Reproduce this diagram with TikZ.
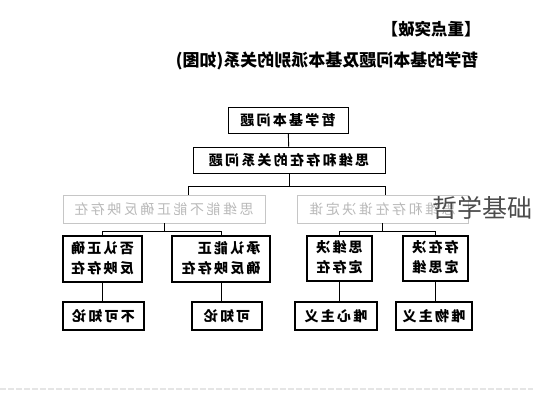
\documentclass[tikz,border=0pt]{standalone}
\usepackage{fontspec}
\setmainfont{Noto Sans CJK SC}
\usetikzlibrary{positioning}

\newcommand\mirtext[1]{\reflectbox{#1}}

\begin{document}
\begin{tikzpicture}[
x = 1pt, y = -1pt,
every node/.style = {
	font = \fontsize{14}{20}\selectfont\bfseries\addfontfeature{LetterSpace=16},
	inner sep = 0pt
},
title/.style = {
	font = \fontsize{16.5}{18}\selectfont\bfseries
},
pbox/.style = {
	draw,
	line width = 0.9pt,
	minimum height = 26
},
graybox/.style = {
	draw = gray!45,
	text = gray!55,
	line width = 0.9pt,
	minimum height = 28,
	font = \fontsize{14}{20}\selectfont\addfontfeature{LetterSpace=18}
},
thickbox/.style = {
	draw,
	line width = 1.5pt,
	minimum height = 46
},
leafbox/.style = {
	draw,
	line width = 1.1pt,
	minimum height = 28
},
link/.style = {
	line width = 0.9pt
}
]
\useasboundingbox (0,0) rectangle (533,400);

\node [title] (head) at (431,29) {\mirtext{【重点突破】}};
\node [title, font = \fontsize{17}{18}\selectfont\bfseries] (sub) at (327,61) {\mirtext{哲学的基本问题及基本派别的关系(如图)}};

\node [pbox, minimum width = 120] (basic) at (288,120) {\mirtext{哲学基本问题}};
\node [pbox, minimum width = 192] (relation) at (289,160) {\mirtext{思维和存在的关系问题}};

\node [graybox, minimum width = 202] (canreflect) at (164,209) {\mirtext{思维能不能正确反映存在}};
\node [graybox, minimum width = 171] (whodecides) at (382.5,209) {\mirtext{思维和存在谁决定谁}};

\node [thickbox, minimum width = 79] (deny) at (102.5,259) {\mirtext{\begin{tabular}{@{}l@{}}否认正确\\反映存在\end{tabular}}};
\node [thickbox, minimum width = 98] (admit) at (221,259) {\mirtext{\begin{tabular}{@{}l@{}}承认能正\\确反映存在\end{tabular}}};
\node [thickbox, minimum width = 65, minimum height = 45] (thoughtfirst) at (339.5,258.5) {\mirtext{\begin{tabular}{@{}l@{}}思维决\\定存在\end{tabular}}};
\node [thickbox, minimum width = 65, minimum height = 45] (beingfirst) at (435.5,258.5) {\mirtext{\begin{tabular}{@{}l@{}}存在决\\定思维\end{tabular}}};

\node [leafbox, minimum width = 81] (agnostic) at (103.5,316) {\mirtext{不可知论}};
\node [leafbox, minimum width = 70] (knowable) at (227,316) {\mirtext{可知论}};
\node [leafbox, minimum width = 82] (idealism) at (336,316) {\mirtext{唯心主义}};
\node [leafbox, minimum width = 76] (materialism) at (434,316) {\mirtext{唯物主义}};

% buses
\coordinate (busL) at (188,186);
\coordinate (busR) at (385,186);
\coordinate (busA) at (0,231);

\draw [link] (basic) -- (relation);
\draw [link] (relation.south) -- (relation.south |- busL);
\draw [link] (busL |- canreflect.north) -- (busL) -- (busR) -- (busR |- whodecides.north);

\draw [link] (canreflect.south) -- (canreflect.south |- busA);
\draw [link] (deny.north) -- (deny.north |- busA) -- (admit.north |- busA) -- (admit.north);
\draw [link] (whodecides.south) -- (whodecides.south |- busA);
\draw [link] (thoughtfirst.north) -- (thoughtfirst.north |- busA) -- (beingfirst.north |- busA) -- (beingfirst.north);

\draw [link] (deny.south) -- (deny.south |- agnostic.north);
\draw [link] (admit.south) -- (admit.south |- knowable.north);
\draw [link] (thoughtfirst.south) -- (thoughtfirst.south |- idealism.north);
\draw [link] (beingfirst.south) -- (beingfirst.south |- materialism.north);

% watermark and page rule
\node [font = \fontsize{25}{28}\selectfont, text = black!70, anchor = west] (mark) at (432,208) {哲学基础};
\coordinate (ruleL) at (0,389);
\coordinate (ruleR) at (533,389);
\draw [gray!20, line width = 1.2pt, dash pattern = on 6pt off 2pt] (ruleL) -- (ruleR);
\end{tikzpicture}
\end{document}
